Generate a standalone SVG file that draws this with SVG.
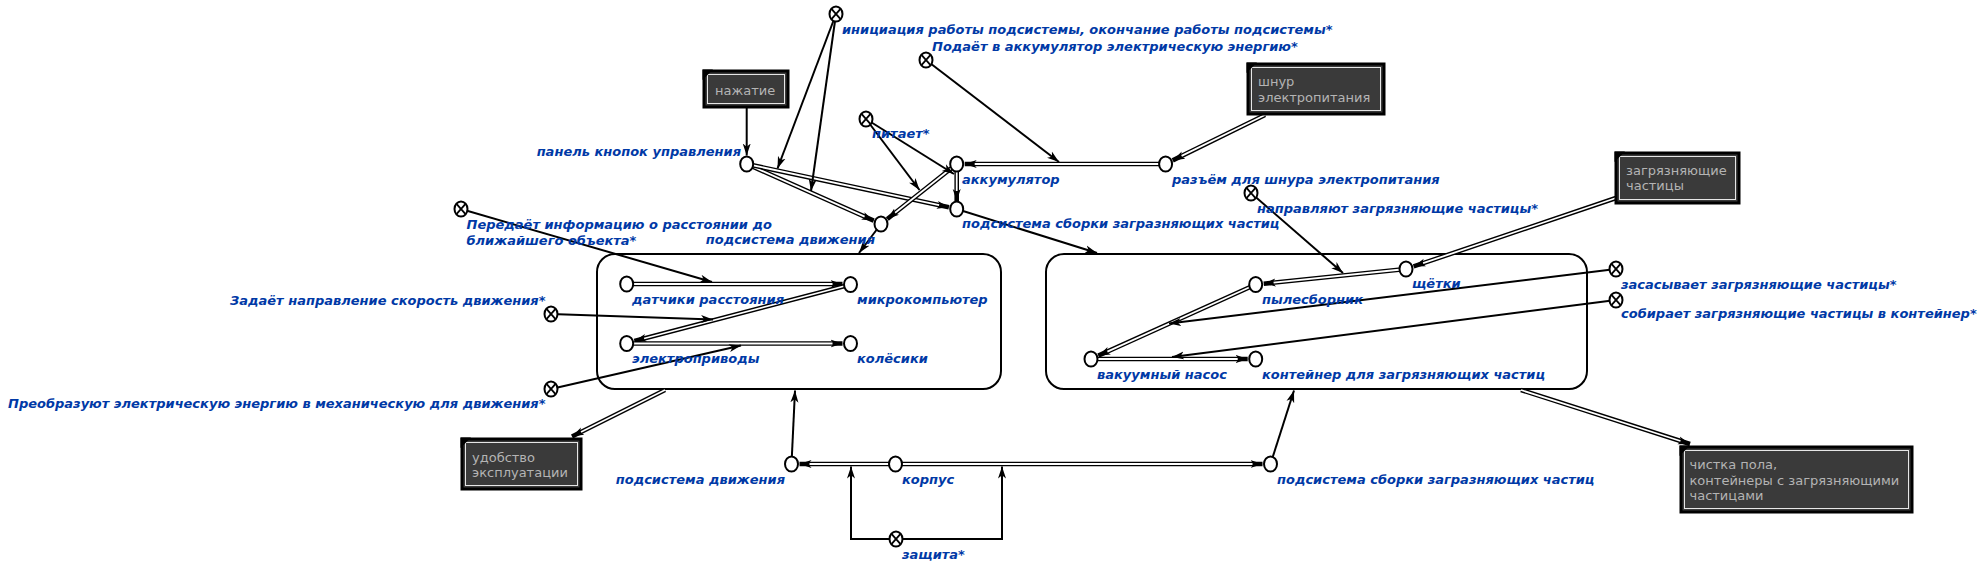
<svg xmlns="http://www.w3.org/2000/svg" width="1986" height="571" viewBox="0 0 1986 571">
<style>
.lbl{font-family:"DejaVu Sans","Liberation Sans",sans-serif;font-size:13px;font-weight:bold;font-style:italic;fill:#0039a6}
.bt{font-family:"DejaVu Sans","Liberation Sans",sans-serif;font-size:13px;fill:#b4b4b4}
.s{stroke:#000;stroke-width:2;fill:none;marker-end:url(#ah)}
.dO{stroke:#000;stroke-width:4.6;fill:none;marker-end:url(#ah)}
.dI{stroke:#fff;stroke-width:1.8;fill:none}
.nd{fill:#fff;stroke:#000;stroke-width:2}
.xl{stroke:#000;stroke-width:1.8}
.bx{fill:#3a3a3a;stroke:#000;stroke-width:3}
.bi{fill:none;stroke:#e6e6e6;stroke-width:1}
.big{fill:#fff;stroke:#000;stroke-width:2}
</style>
<defs>
<marker id="ah" markerUnits="userSpaceOnUse" markerWidth="14" markerHeight="10" refX="12" refY="4.5" orient="auto" viewBox="0 0 14 10">
<path d="M0,0.5 L12,4.5 L0,8.5 L3.2,4.5 Z" fill="#000"/>
</marker>
<g id="xn"><ellipse rx="6.5" ry="7.5" class="nd"/><line x1="-4.3" y1="-4.8" x2="4.3" y2="4.8" class="xl"/><line x1="-4.3" y1="4.8" x2="4.3" y2="-4.8" class="xl"/></g>
</defs>
<rect width="1986" height="571" fill="#fff"/>

<g id="box-movement"><rect class="big" x="597" y="254" width="404" height="135" rx="18"/></g>
<g id="box-collect"><rect class="big" x="1046" y="254" width="541" height="135" rx="18"/></g>

<g id="connectors">
<!-- double lines -->
<path class="dO" d="M746.7,164 L873.7,220.7"/><path class="dI" d="M746.7,164 L864.6,216.6"/>
<path class="dO" d="M746.7,164 L948.9,207.3"/><path class="dI" d="M746.7,164 L939.1,205.2"/>
<path class="dO" d="M1165.6,164 L964.7,164"/><path class="dI" d="M1165.6,164 L974.7,164"/>
<path class="dO" d="M1265,115 L1172.7,160.4"/><path class="dI" d="M1265,115 L1181.6,155.9"/>
<path class="dO" d="M956.7,164 L887.3,219"/><path class="dI" d="M956.7,164 L895.1,212.8"/>
<path class="dO" d="M956.7,164 L956.7,201"/><path class="dI" d="M956.7,164 L956.7,191"/>
<path class="dO" d="M626.7,284 L842.5,284"/><path class="dI" d="M626.7,284 L832.5,284"/>
<path class="dO" d="M850.5,284.5 L634.4,341"/><path class="dI" d="M850.5,284.5 L644.1,338.5"/>
<path class="dO" d="M626.7,343.5 L842.5,343.5"/><path class="dI" d="M626.7,343.5 L832.5,343.5"/>
<path class="dO" d="M1616,198 L1413.6,266.4"/><path class="dI" d="M1616,198 L1423.1,263.2"/>
<path class="dO" d="M1406,269 L1263.7,283.7"/><path class="dI" d="M1406,269 L1273.6,282.7"/>
<path class="dO" d="M1255.7,284.5 L1098.3,355.7"/><path class="dI" d="M1255.7,284.5 L1107.4,351.6"/>
<path class="dO" d="M1091,359 L1247.7,359"/><path class="dI" d="M1091,359 L1237.7,359"/>
<path class="dO" d="M665,390 L572,436.5"/><path class="dI" d="M665,390 L581,432"/>
<path class="dO" d="M1521,390 L1690,444"/><path class="dI" d="M1521,390 L1680.5,441"/>
<path class="dO" d="M895.5,464 L799.5,464"/><path class="dI" d="M895.5,464 L809.5,464"/>
<path class="dO" d="M895.5,464 L1262.5,464"/><path class="dI" d="M895.5,464 L1252.5,464"/>
<!-- solid arrows -->
<path class="s" d="M746.7,107 L746.7,155.5"/>
<path class="s" d="M836,14 L777.5,168.5"/>
<path class="s" d="M836,14 L811,191"/>
<path class="s" d="M926,60 L1059,162"/>
<path class="s" d="M866,119 L919.5,190"/>
<path class="s" d="M866,119 L954,174"/>
<path class="s" d="M956.7,209 L1097,253"/>
<path class="s" d="M881,224 L859,253"/>
<path class="s" d="M461,209 L712,282"/>
<path class="s" d="M551,314 L713,319.5"/>
<path class="s" d="M551,389 L741,345.5"/>
<path class="s" d="M1251,193 L1343,273"/>
<path class="s" d="M1616,269 L1169,323.5"/>
<path class="s" d="M1616,300 L1172,357"/>
<path class="s" d="M791.5,464 L795,390.5"/>
<path class="s" d="M1270.5,464 L1294,390.5"/>
<path class="s" d="M896,539 L851,539 L851,466.5"/>
<path class="s" d="M896,539 L1002,539 L1002,466.5"/>
</g>

<g id="n-init"><use href="#xn" x="836" y="14"/><text class="lbl" x="842" y="33.5">инициация работы подсистемы, окончание работы подсистемы*</text></g>
<g id="n-podaet"><use href="#xn" x="926" y="60"/><text class="lbl" x="932" y="50.5">Подаёт в аккумулятор электрическую энергию*</text></g>
<g id="n-press"><rect class="bx" x="704" y="71" width="84" height="36"/><rect class="bi" x="707.5" y="74.5" width="77" height="29"/><path d="M702.5,69.5 L713,69.5 L702.5,80 Z" fill="#000"/><text class="bt" x="715" y="94.5">нажатие</text></g>
<g id="n-panel"><ellipse class="nd" cx="746.7" cy="164" rx="6.5" ry="7.5"/><text class="lbl" x="741" y="155.5" text-anchor="end">панель кнопок управления</text></g>
<g id="n-pitaet"><use href="#xn" x="866" y="119"/><text class="lbl" x="872" y="137.5">питает*</text></g>
<g id="n-akk"><ellipse class="nd" cx="956.7" cy="164" rx="6.5" ry="7.5"/><text class="lbl" x="962" y="183.5">аккумулятор</text></g>
<g id="n-razem"><ellipse class="nd" cx="1165.6" cy="164" rx="6.5" ry="7.5"/><text class="lbl" x="1172" y="183.5">разъём для шнура электропитания</text></g>
<g id="n-cord"><rect class="bx" x="1248" y="64" width="136" height="50"/><rect class="bi" x="1251.5" y="67.5" width="129" height="43"/><path d="M1246.5,62.5 L1257,62.5 L1246.5,73 Z" fill="#000"/><text class="bt" x="1258" y="86">шнур</text><text class="bt" x="1258" y="101.5">электропитания</text></g>
<g id="n-sborki-top"><ellipse class="nd" cx="956.7" cy="209" rx="6.5" ry="7.5"/><text class="lbl" x="962" y="227.5">подсистема сборки загразняющих частиц</text></g>
<g id="n-dvizh-top"><ellipse class="nd" cx="881" cy="224" rx="6.5" ry="7.5"/><text class="lbl" x="875" y="243.5" text-anchor="end">подсистема движения</text></g>
<g id="n-peredaet"><use href="#xn" x="461" y="209"/><text class="lbl" x="466.5" y="228.5">Передаёт информацию о расстоянии до</text><text class="lbl" x="466.5" y="244.5">ближайшего объекта*</text></g>
<g id="n-napr"><use href="#xn" x="1251" y="193"/><text class="lbl" x="1257" y="212.5">направляют загрязняющие частицы*</text></g>
<g id="n-dirt"><rect class="bx" x="1616" y="153" width="123" height="50"/><rect class="bi" x="1619.5" y="156.5" width="116" height="43"/><path d="M1614.5,151.5 L1625,151.5 L1614.5,162 Z" fill="#000"/><text class="bt" x="1626" y="175">загрязняющие</text><text class="bt" x="1626" y="190">частицы</text></g>
<g id="n-zasas"><use href="#xn" x="1616" y="269"/><text class="lbl" x="1621" y="288.5">засасывает загрязняющие частицы*</text></g>
<g id="n-sobir"><use href="#xn" x="1616" y="300"/><text class="lbl" x="1621" y="317.5">собирает загрязняющие частицы в контейнер*</text></g>
<g id="n-zadaet"><use href="#xn" x="551" y="314"/><text class="lbl" x="545.5" y="305" text-anchor="end">Задаёт направление скорость движения*</text></g>
<g id="n-preobr"><use href="#xn" x="551" y="389"/><text class="lbl" x="545.5" y="408" text-anchor="end">Преобразуют электрическую энергию в механическую для движения*</text></g>
<g id="n-datch"><ellipse class="nd" cx="626.7" cy="284" rx="6.5" ry="7.5"/><text class="lbl" x="632" y="303.5">датчики расстояния</text></g>
<g id="n-micro"><ellipse class="nd" cx="850.5" cy="284.5" rx="6.5" ry="7.5"/><text class="lbl" x="857" y="303.5">микрокомпьютер</text></g>
<g id="n-electro"><ellipse class="nd" cx="626.7" cy="343.5" rx="6.5" ry="7.5"/><text class="lbl" x="632" y="363">электроприводы</text></g>
<g id="n-wheels"><ellipse class="nd" cx="850.5" cy="343.5" rx="6.5" ry="7.5"/><text class="lbl" x="857" y="363">колёсики</text></g>
<g id="n-brush"><ellipse class="nd" cx="1406" cy="269" rx="6.5" ry="7.5"/><text class="lbl" x="1412" y="288">щётки</text></g>
<g id="n-dust"><ellipse class="nd" cx="1255.7" cy="284.5" rx="6.5" ry="7.5"/><text class="lbl" x="1262" y="303.5">пылесборник</text></g>
<g id="n-pump"><ellipse class="nd" cx="1091" cy="359" rx="6.5" ry="7.5"/><text class="lbl" x="1097" y="378.5">вакуумный насос</text></g>
<g id="n-cont"><ellipse class="nd" cx="1255.7" cy="359" rx="6.5" ry="7.5"/><text class="lbl" x="1262" y="378.5">контейнер для загрязняющих частиц</text></g>
<g id="n-comfort"><rect class="bx" x="462" y="439" width="119" height="50"/><rect class="bi" x="465.5" y="442.5" width="112" height="43"/><path d="M460.5,437.5 L471,437.5 L460.5,448 Z" fill="#000"/><text class="bt" x="472" y="461.5">удобство</text><text class="bt" x="472" y="477">эксплуатации</text></g>
<g id="n-clean"><rect class="bx" x="1681" y="447" width="231" height="65"/><rect class="bi" x="1684.5" y="450.5" width="224" height="58"/><path d="M1679.5,445.5 L1690,445.5 L1679.5,456 Z" fill="#000"/><text class="bt" x="1689.5" y="469">чистка пола,</text><text class="bt" x="1689.5" y="484.5">контейнеры с загрязняющими</text><text class="bt" x="1689.5" y="500">частицами</text></g>
<g id="n-dvizh-bot"><ellipse class="nd" cx="791.5" cy="464" rx="6.5" ry="7.5"/><text class="lbl" x="785" y="483.5" text-anchor="end">подсистема движения</text></g>
<g id="n-korpus"><ellipse class="nd" cx="895.5" cy="464" rx="6.5" ry="7.5"/><text class="lbl" x="902" y="483.5">корпус</text></g>
<g id="n-sborki-bot"><ellipse class="nd" cx="1270.5" cy="464" rx="6.5" ry="7.5"/><text class="lbl" x="1277" y="483.5">подсистема сборки загразняющих частиц</text></g>
<g id="n-zashita"><use href="#xn" x="896" y="539"/><text class="lbl" x="902" y="558.5">защита*</text></g>
</svg>
